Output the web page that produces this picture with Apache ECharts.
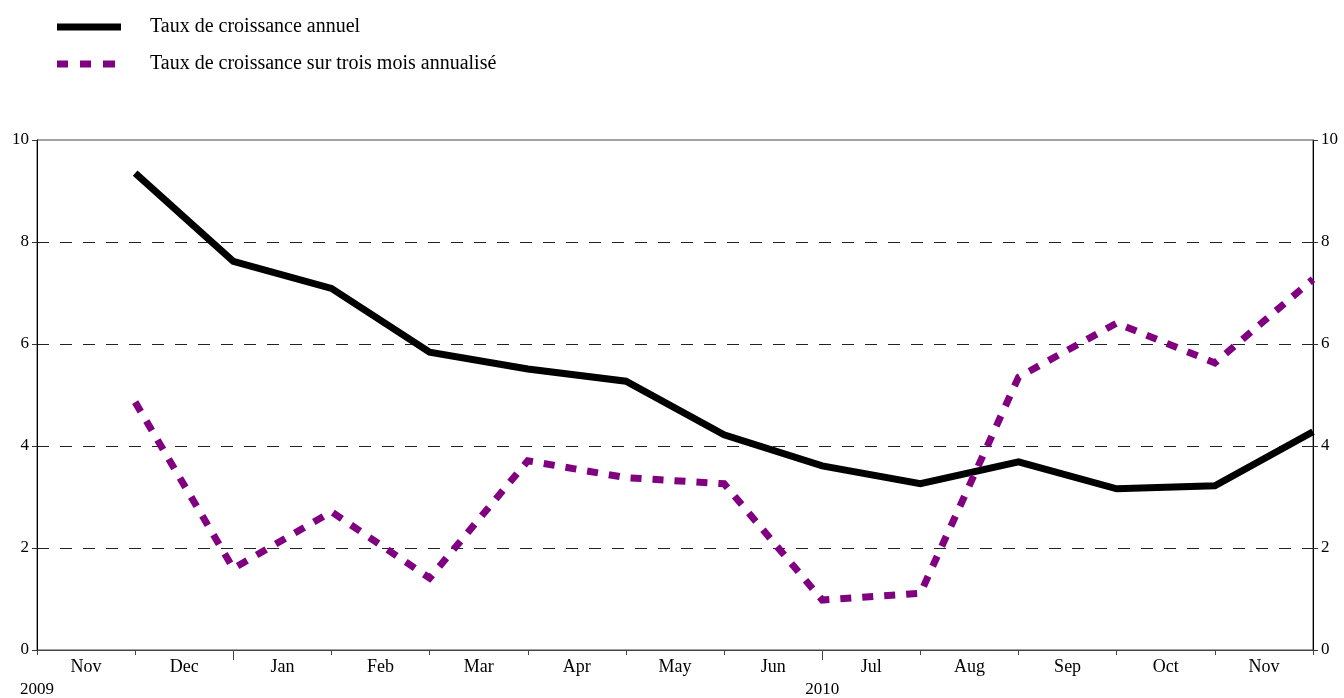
<!DOCTYPE html>
<html>
<head>
<meta charset="utf-8">
<script src="https://cdn.jsdelivr.net/npm/echarts@6/dist/echarts.min.js"></script>
<style>
  html, body { margin: 0; padding: 0; background: #fff; }
  #chart { width: 1344px; height: 698px; }
</style>
</head>
<body>
<div id="chart"></div>
<script>
// Month labels (Nov 2009 to Nov 2010); each value sits at the end of its month
const months = ['Nov', 'Dec', 'Jan', 'Feb', 'Mar', 'Apr', 'May', 'Jun', 'Jul', 'Aug', 'Sep', 'Oct', 'Nov'];
const annualGrowth = [9.35, 7.62, 7.09, 5.84, 5.51, 5.27, 4.22, 3.61, 3.26, 3.69, 3.16, 3.22, 4.28];
const threeMonthGrowth = [4.86, 1.60, 2.71, 1.41, 3.71, 3.38, 3.26, 0.98, 1.11, 5.35, 6.41, 5.63, 7.27];
const yearLabels = { 0: '2009', 8: '2010' };
const seriesNames = ['Taux de croissance annuel', 'Taux de croissance sur trois mois annualisé'];

const FONT = "'Liberation Serif', 'Times New Roman', serif";

// legend keys: a solid bar and a three-dash bar
const SOLID_KEY = 'path://M0,0H64V7H0Z';
const DASH_KEY = 'path://M0,0H11V7H0Z M23,0H34V7H23Z M46,0H58V7H46Z M64,0H64V7H64Z';

// points placed on month boundaries 1..13
const toPoints = arr => arr.map((v, i) => [i + 1, v]);

const yAxisBase = {
  type: 'value', min: 0, max: 10, interval: 2,
  axisLine: { show: true, lineStyle: { color: '#000', width: 1 } },
  axisTick: { show: true, length: 5, lineStyle: { color: '#333' } },
  axisLabel: { color: '#000', fontFamily: FONT, fontSize: 17, margin: 8 }
};

const chart = echarts.init(document.getElementById('chart'));
chart.setOption({
  animation: false,
  backgroundColor: '#fff',
  grid: {
    left: 37, right: 31, top: 140, bottom: 46,
    show: true, borderColor: '#444', borderWidth: 1, backgroundColor: 'transparent'
  },
  legend: {
    orient: 'vertical', left: 52, top: 12,
    itemWidth: 64, itemHeight: 7, itemGap: 17,
    itemStyle: { borderWidth: 0 },
    textStyle: { fontFamily: FONT, fontSize: 20, color: '#000', padding: [0, 0, 0, 24] },
    data: [
      { name: seriesNames[0], icon: SOLID_KEY },
      { name: seriesNames[1], icon: DASH_KEY }
    ]
  },
  xAxis: [
    {
      type: 'category', data: months, boundaryGap: true, position: 'bottom',
      axisLine: { show: true, lineStyle: { color: '#444', width: 1 } },
      axisTick: { show: true, length: 5, lineStyle: { color: '#444' } },
      axisLabel: { color: '#000', fontFamily: FONT, fontSize: 18, margin: 8, interval: 0 },
      splitLine: { show: false }
    },
    {
      type: 'value', min: 0, max: 13, interval: 1, position: 'bottom',
      axisLine: { show: false },
      axisTick: { show: true, length: 10, customValues: [2, 8], lineStyle: { color: '#444' } },
      axisLabel: {
        show: true, color: '#000', fontFamily: FONT, fontSize: 17, margin: 31,
        customValues: [0, 8],
        formatter: v => yearLabels[v] || ''
      },
      splitLine: { show: false }
    }
  ],
  yAxis: [
    Object.assign({}, yAxisBase, {
      position: 'left',
      splitLine: {
        show: true, showMinLine: false, showMaxLine: false,
        lineStyle: { color: '#222', width: 1, type: [12, 11] }
      }
    }),
    Object.assign({}, yAxisBase, { position: 'right', splitLine: { show: false } })
  ],
  series: [
    {
      name: seriesNames[0], type: 'line', xAxisIndex: 1, yAxisIndex: 0,
      data: toPoints(annualGrowth), symbol: 'none', smooth: false,
      itemStyle: { color: '#000' },
      lineStyle: { color: '#000', width: 7, cap: 'butt', join: 'miter' },
      z: 3
    },
    {
      name: seriesNames[1], type: 'line', xAxisIndex: 1, yAxisIndex: 0,
      data: toPoints(threeMonthGrowth), symbol: 'none', smooth: false,
      itemStyle: { color: '#800080' },
      lineStyle: { color: '#800080', width: 7, type: [11, 11], cap: 'butt', join: 'miter' },
      z: 4
    }
  ]
});
</script>
</body>
</html>
